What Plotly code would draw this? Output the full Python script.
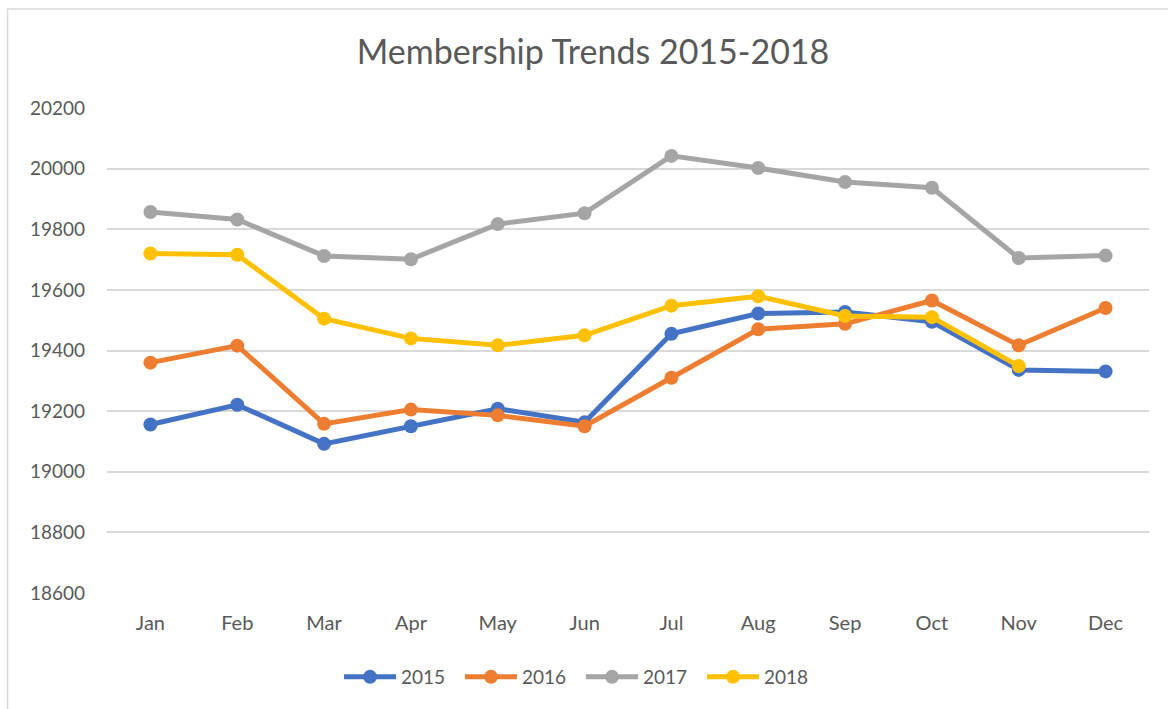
import plotly.graph_objects as go

months = ["Jan", "Feb", "Mar", "Apr", "May", "Jun", "Jul", "Aug", "Sep", "Oct", "Nov", "Dec"]
years = ["2015", "2016", "2017", "2018"]
v2015 = [19156, 19221, 19092, 19150, 19208, 19163, 19455, 19522, 19527, 19495, 19336, 19331]
v2016 = [19360, 19416, 19158, 19205, 19186, 19150, 19310, 19470, 19488, 19565, 19417, 19540]
v2017 = [19857, 19832, 19712, 19701, 19817, 19853, 20042, 20002, 19956, 19937, 19705, 19713]
v2018 = [19720, 19716, 19505, 19440, 19417, 19450, 19548, 19579, 19514, 19510, 19349, None]
colors = ["#4472C4", "#ED7D31", "#A5A5A5", "#FFC000"]
yticks = [18600, 18800, 19000, 19200, 19400, 19600, 19800, 20000, 20200]

FONT = "Lato"
W, H = 1168, 709
L, R, T, B = 106.5, 1149.5, 108, 593

fig = go.Figure()
for name, vals, col in zip(years, [v2015, v2016, v2017, v2018], colors):
    fig.add_trace(go.Scatter(
        x=months, y=vals, name=name, mode="lines+markers",
        line=dict(color=col, width=5),
        marker=dict(color=col, size=14),
    ))

pw, ph = R - L, B - T
def px_x(p):
    return (p - L) / pw
def px_y(p):
    return (B - p) / ph

fig.add_shape(type="rect", xref="paper", yref="paper",
              x0=px_x(7), x1=px_x(1180), y0=px_y(9), y1=px_y(720),
              line=dict(color="#d9d9d9", width=1.5), layer="below")

fig.update_layout(
    width=W, height=H,
    margin=dict(l=L, r=W - R, t=T, b=H - B, pad=0),
    paper_bgcolor="white", plot_bgcolor="white",
    font=dict(family=FONT, color="#595959"),
    title=dict(text="Membership Trends 2015-2018", x=593 / W, xanchor="center",
               xref="container", yref="container", y=1 - 52 / H, yanchor="middle",
               font=dict(family=FONT, size=34, color="#595959")),
    showlegend=True,
    legend=dict(orientation="h", x=px_x(581), xanchor="center", y=px_y(677), yanchor="middle",
                font=dict(family=FONT, size=19, color="#595959"), itemwidth=52,
                entrywidth=54, entrywidthmode="pixels",
                bgcolor="rgba(0,0,0,0)"),
    xaxis=dict(type="category", range=[-0.5, 11.5], showgrid=False, zeroline=False,
               showline=False, ticks="", tickfont=dict(family=FONT, size=20, color="#595959"),
               ticklabelstandoff=16),
    yaxis=dict(range=[18600, 20200], tickvals=yticks, ticktext=[str(v) for v in yticks],
               showgrid=True, gridcolor="#d9d9d9", gridwidth=1.5, zeroline=False,
               showline=False, ticks="", tickfont=dict(family=FONT, size=19, color="#595959"),
               ticklabelstandoff=21),
)

fig.write_html("out.html", config={"displayModeBar": False},
               post_script="document.body.style.margin='0px';document.body.style.overflow='hidden';")
